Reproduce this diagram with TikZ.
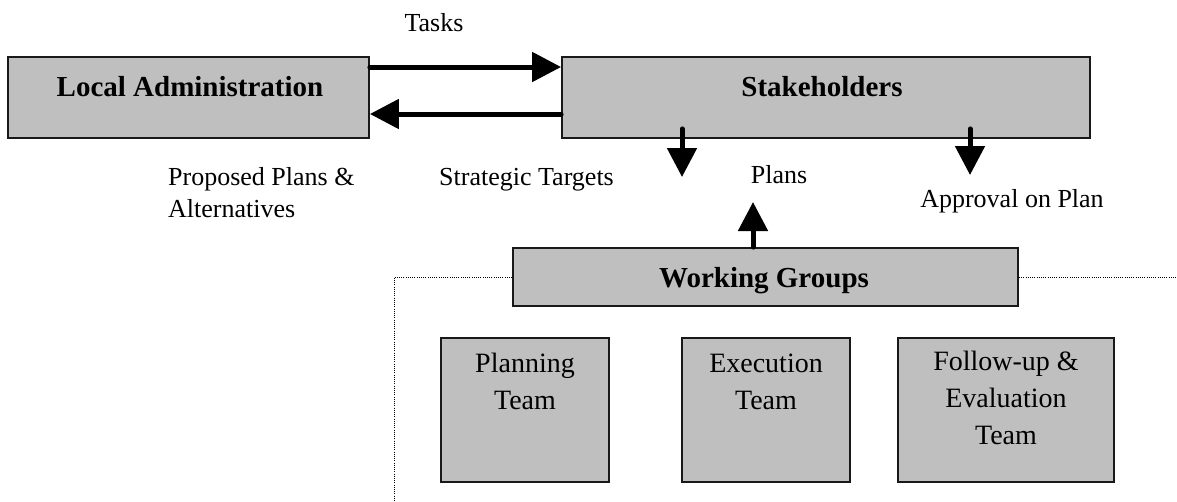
\documentclass[tikz,border=0pt]{standalone}
\usepackage{fontspec}
\setmainfont{Liberation Serif}
\usetikzlibrary{arrows.meta}
\tikzset{
  box/.style={draw=black!90, line width=1.8pt, fill=black!25, inner sep=0pt, rectangle},
  titletext/.style={font=\bfseries\fontsize{29}{34}\selectfont, inner sep=0pt, anchor=base},
  lbl/.style={font=\fontsize{26}{32}\selectfont, inner sep=0pt, anchor=base},
  teamtext/.style={font=\fontsize{28}{37}\selectfont, inner sep=0pt, anchor=base, align=center},
  arr/.style={line width=5pt, line cap=round, -{Triangle[length=29pt,width=29pt]}},
  dotline/.style={line width=1pt, dash pattern=on 1pt off 1.2pt}
}
\begin{document}
\begin{tikzpicture}[x=1pt,y=-1pt]
\useasboundingbox (0,0) rectangle (1177,501);
% boxes
\node[box, minimum width=361pt, minimum height=81pt] (la) at (188.5,97.5) {};
\node[box, minimum width=528pt, minimum height=81pt] (sh) at (826,97.5) {};
\node[box, minimum width=505pt, minimum height=58pt] (wg) at (765.5,277) {};
\node[box, minimum width=168pt, minimum height=144pt] (pt) at (525,410) {};
\node[box, minimum width=168pt, minimum height=144pt] (et) at (766,410) {};
\node[box, minimum width=216pt, minimum height=144pt] (ft) at (1006,410) {};
% box texts (base anchor of a multi-line node = last line)
\node[titletext] (lat) at (190,96) {Local Administration};
\node[titletext] (sht) at (822,96) {Stakeholders};
\node[titletext] (wgt) at (764,287) {Working Groups};
\node[teamtext] (ptt) at (525,409) {Planning\\Team};
\node[teamtext] (ett) at (766,409) {Execution\\Team};
\node[teamtext] (ftt) at (1006,444) {Follow-up \&\\Evaluation\\Team};
% labels
\node[lbl] (tasks) at (434,31) {Tasks};
\node[lbl, anchor=base west, align=left] (prop) at (168,217) {Proposed Plans \&\\Alternatives};
\node[lbl, anchor=base west] (strat) at (439,185) {Strategic Targets};
\node[lbl] (plans) at (779,183) {Plans};
\node[lbl] (appr) at (1012,207) {Approval on Plan};
% connector end points
\coordinate (d1) at (682,177);
\coordinate (d2) at (970,175);
\coordinate (u1) at (753,202);
% arrows
\draw[arr] ([yshift=30.5pt]la.east) -- ([yshift=30.5pt]sh.west);
\draw[arr] ([yshift=-16.5pt]sh.west) -- ([yshift=-16.5pt]la.east);
\draw[arr] ([xshift=-144pt,yshift=10pt]sh.south) -- (d1);
\draw[arr] ([xshift=144pt,yshift=10pt]sh.south) -- (d2);
\draw[arr] ([xshift=-12.5pt]wg.north) -- (u1);
% dotted frame
\draw[dotline] (wg.west) -- (394,277) -- (394,501);
\draw[dotline] (wg.east) -- (1177,277);
\end{tikzpicture}
\end{document}
